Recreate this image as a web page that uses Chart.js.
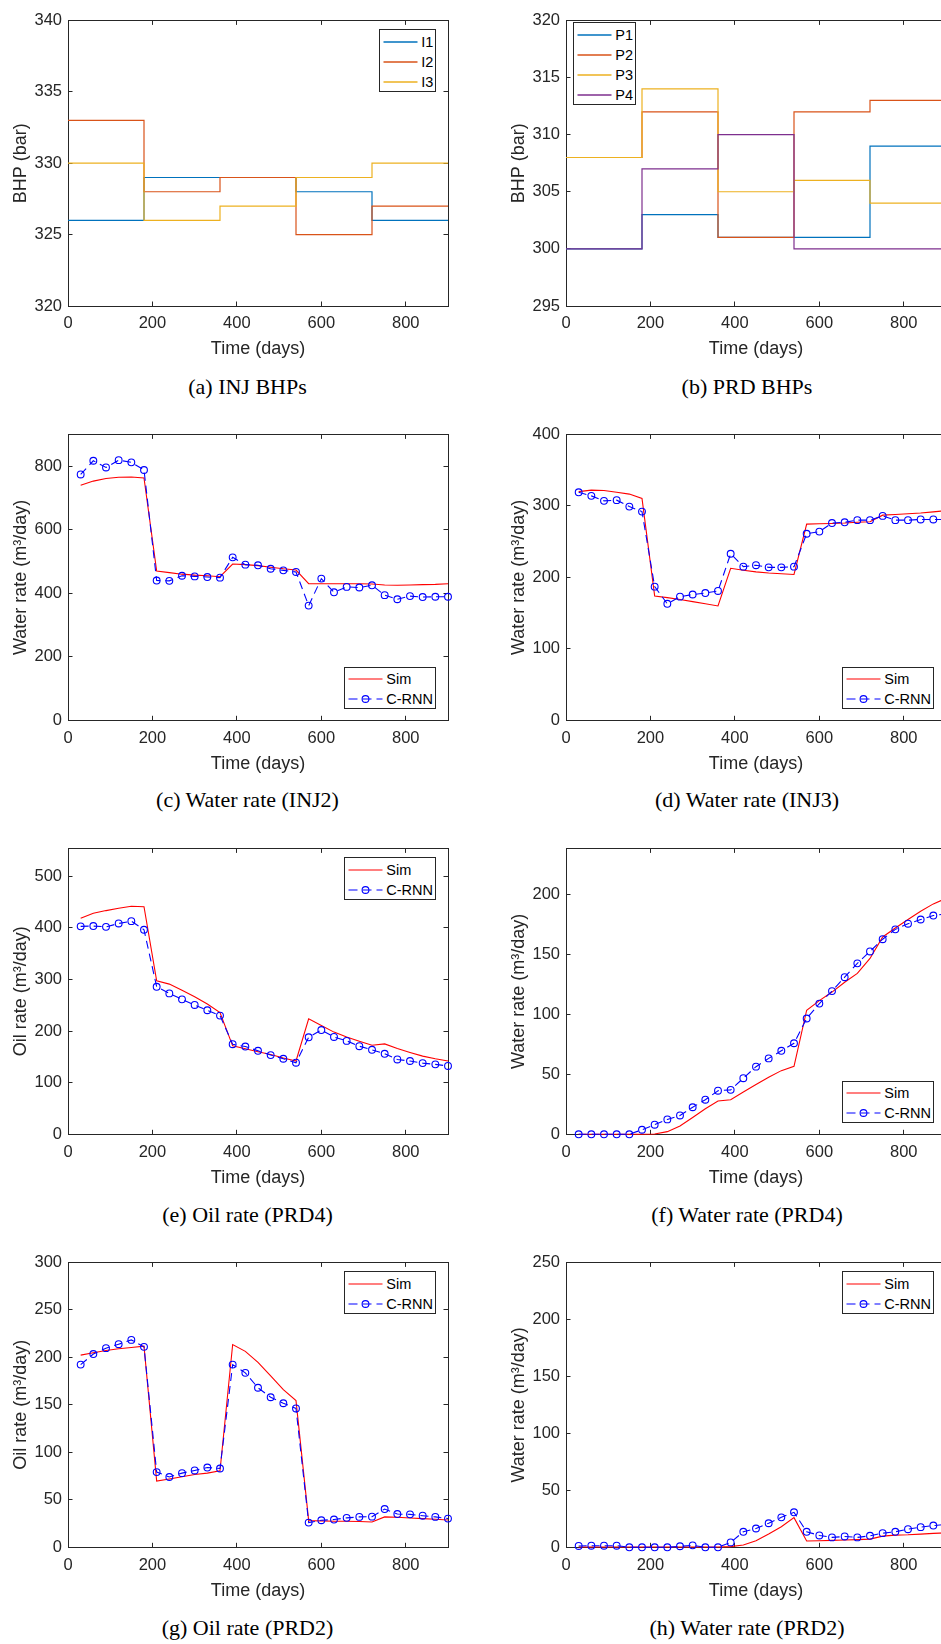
<!DOCTYPE html>
<html>
<head>
<meta charset="utf-8">
<script src="https://cdn.jsdelivr.net/npm/chart.js@4.4.1/dist/chart.umd.min.js"></script>
<style>
html,body{margin:0;padding:0;background:#fff;}
body{width:941px;height:1644px;position:relative;overflow:hidden;}
canvas{position:absolute;}
.cap{position:absolute;font-family:"Liberation Serif","Times New Roman",serif;font-size:22px;color:#000;white-space:nowrap;transform:translate(-50%,-50%);}
.leg{position:absolute;box-sizing:border-box;border:1px solid #262626;background:#fff;font-family:"Liberation Sans",Arial,sans-serif;font-size:14.5px;color:#000;}
.leg .row{position:absolute;left:3px;height:20px;display:flex;align-items:center;white-space:nowrap;}
.leg svg{display:block;margin-right:3px;}
</style>
</head>
<body>
<script>
// ---------------- data ----------------
const xTicks = [0, 200, 400, 600, 800];

// bottom-hole pressure schedules (bar), control steps start at these days
const bhpDays = [0, 180, 360, 540, 720, 900];
const I1 = [326, 329, 329, 328, 326, 326];
const I2 = [333, 328, 329, 325, 327, 327];
const I3 = [330, 326, 327, 329, 330, 330];
const P1 = [300, 303, 301, 301, 309, 309];
const P2 = [308, 312, 301, 312, 313, 313];
const P3 = [308, 314, 305, 306, 304, 304];
const P4 = [300, 307, 310, 300, 300, 300];

// report days
const days = [30, 60, 90, 120, 150, 180, 210, 240, 270, 300, 330, 360, 390, 420, 450,
              480, 510, 540, 570, 600, 630, 660, 690, 720, 750, 780, 810, 840, 870, 900];

// (c) water rate INJ2
const inj2Sim = [740, 753, 761, 765, 766, 763, 470, 465, 460, 457, 455, 452, 492, 490, 487,
                 482, 477, 473, 430, 430, 430, 430, 430, 429, 426, 425, 426, 427, 428, 430];
const inj2Rnn = [774, 817, 796, 819, 812, 788, 440, 439, 455, 453, 451, 449, 513, 490, 488,
                 477, 472, 467, 361, 446, 403, 420, 418, 425, 394, 381, 391, 388, 389, 389];
// (d) water rate INJ3
const inj3Sim = [320, 322, 321.5, 319, 316.5, 310.5, 174, 171.6, 169, 166, 163, 160, 212.7, 210, 207.6,
                 206, 205, 204, 274.5, 275, 275.4, 276, 277, 277.7, 287, 288, 289, 290, 291.6, 293.4];
const inj3Rnn = [319, 314, 307, 308, 299, 292, 187, 163, 173, 176, 178, 181, 233, 215, 217,
                 214, 214, 215, 261, 264, 276, 277, 280, 280, 286, 280, 280, 281, 281, 281];
// (e) oil rate PRD4
const prd4OilSim = [418.8, 428.4, 433.5, 438, 441.8, 441, 297.3, 291, 279, 266.6, 252.6, 236, 171.4, 165.6, 160,
                    154.7, 147.7, 142, 223.8, 211, 198, 188.6, 180.3, 172.6, 175.2, 166.2, 158.6, 151.5, 146.4, 142];
const prd4OilRnn = [403, 403.5, 402, 408.6, 413, 396.4, 285.8, 273, 261.5, 250.6, 240.4, 230, 174.6, 170, 161.8,
                    153.5, 146.4, 138.7, 188, 202, 188.6, 181, 170.7, 163.7, 156, 145, 142, 138, 135.5, 132.4];
// (f) water rate PRD4
const prd4WatSim = [0, 0, 0, 0, 0, 0, 0.3, 2.2, 6.9, 14, 21.2, 27.7, 28.8, 35.2, 41.5,
                    47.5, 53, 56.6, 103.3, 111.3, 118.4, 126.6, 134, 146.4, 164.3, 171.7, 178.8, 185.7, 191.8, 196.4];
const prd4WatRnn = [0, 0, 0, 0, 0, 3.8, 8, 12.4, 15.7, 22.5, 28.8, 36.3, 37, 46.7, 56.3,
                    63.2, 69.5, 75.8, 96.4, 108.8, 119.2, 130.8, 142.3, 152.2, 162.4, 170.6, 175.3, 178.8, 182.1, 183.5];
// (g) oil rate PRD2
const prd2OilSim = [202.4, 204.9, 207.3, 209, 210.4, 211.8, 69.8, 71.9, 74.3, 76.7, 78.1, 80.6, 213.5, 206.3, 194.8,
                    180.6, 166, 154.5, 28.1, 27.8, 27.4, 27.4, 27.1, 26.7, 32, 31.6, 30.9, 30.2, 29.5, 28.8];
const prd2OilRnn = [192.4, 203.5, 209.7, 213.9, 218.4, 211.1, 79.2, 74, 78.1, 80.9, 84, 83, 192.4, 183.7, 168,
                    158, 151.7, 146.2, 26, 28.5, 29.2, 31, 32, 32.3, 40.3, 35, 34.7, 33.3, 32, 30.2];
// (h) water rate PRD2
const prd2WatSim = [0.3, 0.3, 0.3, 0.3, 0.3, 0.3, 0.3, 0.3, 0.3, 0.3, 0.3, 0.3, 0.6, 2, 5.8,
                    11.6, 18, 26, 5.5, 5.8, 6.1, 6.4, 6.7, 7.2, 9.8, 10.7, 11, 11.6, 12.2, 12.7];
const prd2WatRnn = [1.2, 1.4, 1.4, 1.4, 0, 0, 0, 0, 0.9, 1.7, 0, 0, 4.3, 13.6, 16.5,
                    21.1, 26.3, 30.7, 13.6, 10.4, 8.7, 9.5, 8.7, 10.1, 12.4, 13.6, 15.9, 17.7, 19.1, 20];

// y tick labels
const yTicksA = [320, 325, 330, 335, 340];
const yTicksB = [295, 300, 305, 310, 315, 320];
const yTicksC = [0, 200, 400, 600, 800];
const yTicksD = [0, 100, 200, 300, 400];
const yTicksE = [0, 100, 200, 300, 400, 500];
const yTicksF = [0, 50, 100, 150, 200];
const yTicksG = [0, 50, 100, 150, 200, 250, 300];
const yTicksH = [0, 50, 100, 150, 200, 250];

// ---------------- styling / layout ----------------
const FONT = '"Liberation Sans", Arial, Helvetica, sans-serif';
const AXC = '#262626';
const TL = -4.5;          // inward tick marks
const PL = 68, PT = 17.3, PW = 380, XH = 60;
const COL = {blue: '#0072BD', orange: '#D95319', yellow: '#EDB120', purple: '#7E2F8E', sim: '#FF0000', rnn: '#0000FF'};

Chart.defaults.font.family = FONT;

function xAxis(pos, show) {
  return {
    type: 'linear', position: pos, min: 0, max: 900,
    afterBuildTicks: s => { s.ticks = xTicks.map(v => ({value: v})); },
    grid: {drawOnChartArea: false, drawTicks: true, tickLength: TL, color: AXC, lineWidth: 1},
    border: {display: true, color: AXC, width: 1},
    ticks: {display: show, color: AXC, font: {family: FONT, size: 16.5}, padding: 12.5, maxRotation: 0, autoSkip: false},
    title: {display: show, text: 'Time (days)', color: AXC, font: {family: FONT, size: 18}, padding: {top: 0, bottom: 5.7}},
    afterFit: s => { s.height = show ? XH : 0; }
  };
}
function yAxis(pos, show, ymin, ymax, ticks, title) {
  return {
    type: 'linear', position: pos, min: ymin, max: ymax,
    afterBuildTicks: s => { s.ticks = ticks.map(v => ({value: v})); },
    grid: {drawOnChartArea: false, drawTicks: true, tickLength: TL, color: AXC, lineWidth: 1},
    border: {display: true, color: AXC, width: 1},
    ticks: {display: show, color: AXC, font: {family: FONT, size: 16.5}, padding: 10.5, autoSkip: false},
    title: {display: show, text: title, color: AXC, font: {family: FONT, size: 18}, padding: {top: 10.2, bottom: 0}},
    afterFit: s => { s.width = show ? PL : 0; }
  };
}

function stepSet(label, arr, color, order) {
  return {label, data: bhpDays.map((d, i) => ({x: d, y: arr[i]})), borderColor: color, borderWidth: 1.2,
          stepped: 'before', pointRadius: 0, fill: false, order, clip: false};
}
function simSet(arr) {
  return {label: 'Sim', data: days.map((d, i) => ({x: d, y: arr[i]})), borderColor: COL.sim, borderWidth: 1.1,
          pointRadius: 0, fill: false, order: 2, clip: 8};
}
function rnnSet(arr) {
  return {label: 'C-RNN', data: days.map((d, i) => ({x: d, y: arr[i]})), borderColor: COL.rnn, borderWidth: 1.1,
          borderDash: [8, 5], pointStyle: 'circle', pointRadius: 3.4, pointBorderWidth: 1.1,
          pointBorderColor: COL.rnn, pointBackgroundColor: 'rgba(0,0,0,0)', fill: false, order: 1, clip: 8};
}

const panels = [
  {plotLeft: 68, plotTop: 17.3, ph: 288.7, ymin: 320, ymax: 340, yt: yTicksA, ytitle: 'BHP (bar)',
   cap: '(a) INJ BHPs', capX: 247.5, capY: 387,
   sets: () => [stepSet('I1', I1, COL.blue, 3), stepSet('I2', I2, COL.orange, 2), stepSet('I3', I3, COL.yellow, 1)],
   leg: {x: 379.3, y: 29.3, w: 56.7, items: [['I1', COL.blue, 0], ['I2', COL.orange, 0], ['I3', COL.yellow, 0]]}},
  {plotLeft: 566.3, plotTop: 17.3, ph: 288.7, ymin: 295, ymax: 320, yt: yTicksB, ytitle: 'BHP (bar)',
   cap: '(b) PRD BHPs', capX: 747, capY: 387,
   sets: () => [stepSet('P1', P1, COL.blue, 4), stepSet('P2', P2, COL.orange, 3), stepSet('P3', P3, COL.yellow, 2), stepSet('P4', P4, COL.purple, 1)],
   leg: {x: 573.3, y: 22.3, w: 62.4, items: [['P1', COL.blue, 0], ['P2', COL.orange, 0], ['P3', COL.yellow, 0], ['P4', COL.purple, 0]]}},
  {plotLeft: 68, plotTop: 431.7, ph: 289, ymin: 0, ymax: 900, yt: yTicksC, ytitle: 'Water rate (m\u00B3/day)',
   cap: '(c) Water rate (INJ2)', capX: 247.5, capY: 800,
   sets: () => [simSet(inj2Sim), rnnSet(inj2Rnn)], leg: {x: 344.3, y: 666.7, w: 92, items: 'sr'}},
  {plotLeft: 566.3, plotTop: 431.7, ph: 289, ymin: 0, ymax: 400, yt: yTicksD, ytitle: 'Water rate (m\u00B3/day)',
   cap: '(d) Water rate (INJ3)', capX: 747, capY: 800,
   sets: () => [simSet(inj3Sim), rnnSet(inj3Rnn)], leg: {x: 842.3, y: 666.7, w: 92, items: 'sr'}},
  {plotLeft: 68, plotTop: 845.3, ph: 289, ymin: 0, ymax: 554, yt: yTicksE, ytitle: 'Oil rate (m\u00B3/day)',
   cap: '(e) Oil rate (PRD4)', capX: 247.5, capY: 1215,
   sets: () => [simSet(prd4OilSim), rnnSet(prd4OilRnn)], leg: {x: 344.3, y: 857.3, w: 92, items: 'sr'}},
  {plotLeft: 566.3, plotTop: 845.3, ph: 289, ymin: 0, ymax: 238, yt: yTicksF, ytitle: 'Water rate (m\u00B3/day)',
   cap: '(f) Water rate (PRD4)', capX: 747, capY: 1215,
   sets: () => [simSet(prd4WatSim), rnnSet(prd4WatRnn)], leg: {x: 842.3, y: 1080.7, w: 92, items: 'sr'}},
  {plotLeft: 68, plotTop: 1259.3, ph: 288, ymin: 0, ymax: 300, yt: yTicksG, ytitle: 'Oil rate (m\u00B3/day)',
   cap: '(g) Oil rate (PRD2)', capX: 247.5, capY: 1628,
   sets: () => [simSet(prd2OilSim), rnnSet(prd2OilRnn)], leg: {x: 344.3, y: 1271, w: 92, items: 'sr'}},
  {plotLeft: 566.3, plotTop: 1259.3, ph: 288, ymin: 0, ymax: 250, yt: yTicksH, ytitle: 'Water rate (m\u00B3/day)',
   cap: '(h) Water rate (PRD2)', capX: 747, capY: 1628,
   sets: () => [simSet(prd2WatSim), rnnSet(prd2WatRnn)], leg: {x: 842.3, y: 1271, w: 92, items: 'sr'}}
];

function sampleSVG(color, kind) {
  const ns = 'http://www.w3.org/2000/svg';
  const svg = document.createElementNS(ns, 'svg');
  svg.setAttribute('width', '35'); svg.setAttribute('height', '20');
  const ln = document.createElementNS(ns, 'line');
  ln.setAttribute('x1', '0.5'); ln.setAttribute('x2', '34.5'); ln.setAttribute('y1', '10'); ln.setAttribute('y2', '10');
  ln.setAttribute('stroke', color); ln.setAttribute('stroke-width', kind === 0 ? '1.3' : '1.1');
  if (kind === 2) ln.setAttribute('stroke-dasharray', '9 5');
  svg.appendChild(ln);
  if (kind === 2) {
    const c = document.createElementNS(ns, 'circle');
    c.setAttribute('cx', '17.5'); c.setAttribute('cy', '10'); c.setAttribute('r', '3.4');
    c.setAttribute('fill', 'none'); c.setAttribute('stroke', color); c.setAttribute('stroke-width', '1.1');
    svg.appendChild(c);
  }
  return svg;
}

function makeLegend(leg) {
  const items = leg.items === 'sr' ? [['Sim', COL.sim, 1], ['C-RNN', COL.rnn, 2]] : leg.items;
  const box = document.createElement('div');
  box.className = 'leg';
  box.style.left = leg.x + 'px'; box.style.top = leg.y + 'px';
  box.style.width = leg.w + 'px'; box.style.height = (items.length * 20 + 2.5) + 'px';
  items.forEach((it, i) => {
    const row = document.createElement('div');
    row.className = 'row';
    row.style.top = (1.5 + i * 20) + 'px';
    row.appendChild(sampleSVG(it[1], it[2]));
    const t = document.createElement('span');
    t.textContent = it[0];
    row.appendChild(t);
    box.appendChild(row);
  });
  document.body.appendChild(box);
}

panels.forEach(p => {
  const cv = document.createElement('canvas');
  const W = 470, H = PT + p.ph + XH;
  cv.width = W; cv.height = Math.round(H);
  cv.style.width = W + 'px'; cv.style.height = Math.round(H) + 'px';
  cv.style.left = (p.plotLeft - PL) + 'px';
  cv.style.top = (p.plotTop - PT) + 'px';
  document.body.appendChild(cv);
  const padBottom = Math.round(H) - H;
  new Chart(cv.getContext('2d'), {
    type: 'line',
    data: {datasets: p.sets()},
    options: {
      responsive: false, animation: false, devicePixelRatio: 1,
      layout: {padding: {left: 0, top: PT, right: W - PL - PW, bottom: padBottom}},
      plugins: {legend: {display: false}, tooltip: {enabled: false}},
      elements: {line: {tension: 0}},
      scales: {
        x: xAxis('bottom', true),
        x2: xAxis('top', false),
        y: yAxis('left', true, p.ymin, p.ymax, p.yt, p.ytitle),
        y2: yAxis('right', false, p.ymin, p.ymax, p.yt, p.ytitle)
      }
    }
  });
  const cap = document.createElement('div');
  cap.className = 'cap';
  cap.textContent = p.cap;
  cap.style.left = p.capX + 'px';
  cap.style.top = p.capY + 'px';
  document.body.appendChild(cap);
  makeLegend(p.leg);
});
</script>
</body>
</html>
